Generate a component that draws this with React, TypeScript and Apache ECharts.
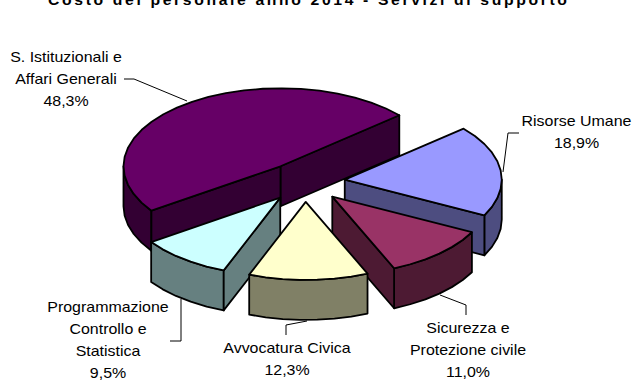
import React, { useEffect, useRef } from "react";
import * as echarts from "echarts";

const titleText = "Costo del personale anno 2014 - Servizi di supporto";
const categories = [
  "S. Istituzionali e\nAffari Generali",
  "Risorse Umane",
  "Sicurezza e\nProtezione civile",
  "Avvocatura Civica",
  "Programmazione\nControllo e\nStatistica",
];
const values = [48.3, 18.9, 11.0, 12.3, 9.5];
const topColors = ["#660066", "#9999FF", "#993366", "#FFFFCC", "#CCFFFF"];
const sideColors = ["#330033", "#4D4D80", "#4D1A33", "#808066", "#668080"];
const drawOrder = [0, 1, 2, 4, 3];

const CX = 305, CY = 182, RX = 157, RY = 78, DEPTH = 40, EXPLODE = 0.255, START = 214.7, LW = 1.8;
const FONT = "Liberation Sans, Arial, sans-serif";

const rad = (d: number) => (d * Math.PI) / 180;
const total = values.reduce((a, b) => a + b, 0);
const spans: { a: number; b: number }[] = [];
let cursor = START;
values.forEach((v) => {
  const next = cursor - (v / total) * 360;
  spans.push({ a: next, b: cursor });
  cursor = next;
});

function arcPts(ox: number, oy: number, a: number, b: number, dz = 0) {
  const pts: number[][] = [];
  const n = Math.max(2, Math.ceil((b - a) / 7));
  for (let i = 0; i <= n; i++) {
    const t = rad(a + ((b - a) * i) / n);
    pts.push([ox + RX * Math.cos(t), oy - RY * Math.sin(t) + dz]);
  }
  return pts;
}

function renderSlice(params: any, api: any) {
  const idx = api.value(0);
  const { a, b } = spans[idx];
  const mid = rad((a + b) / 2);
  const ox = CX + EXPLODE * RX * Math.cos(mid);
  const oy = CY - EXPLODE * RY * Math.sin(mid);
  const children: any[] = [];
  const poly = (points: number[][], fill: string) => ({
    type: "polygon",
    shape: { points },
    style: { fill, stroke: "#000", lineWidth: LW, lineJoin: "round" },
  });
  const sideFill = sideColors[idx];
  const ranges: number[][] = [];
  for (let k = -2; k <= 2; k++) {
    const lo = Math.max(a, 180 + 360 * k);
    const hi = Math.min(b, 360 + 360 * k);
    if (hi > lo) ranges.push([lo, hi]);
  }
  ranges.forEach(([lo, hi]) => {
    const top = arcPts(ox, oy, lo, hi);
    const bot = arcPts(ox, oy, lo, hi, DEPTH).reverse();
    children.push(poly([...top, ...bot], sideFill));
  });
  const wall = (ang: number) => {
    const t = rad(ang);
    const px = ox + RX * Math.cos(t);
    const py = oy - RY * Math.sin(t);
    return poly([[ox, oy], [px, py], [px, py + DEPTH], [ox, oy + DEPTH]], sideFill);
  };
  if (Math.sin(rad(a - 90)) < 0) children.push(wall(a));
  if (Math.sin(rad(b + 90)) < 0) children.push(wall(b));
  children.push(poly([[ox, oy], ...arcPts(ox, oy, a, b)], topColors[idx]));
  return { type: "group", children };
}

const fmt = (v: number) => v.toFixed(1).replace(".", ",") + "%";
const labelPos = [
  { x: 66, y: 79 },
  { x: 576.5, y: 132 },
  { x: 468, y: 350 },
  { x: 287, y: 359 },
  { x: 108, y: 339.5 },
];
const leaders = [
  [[124, 79], [134, 79], [187, 101]],
  [[519, 133], [508, 133], [503, 172]],
  [[440, 295], [466, 305], [466, 315]],
  [[286, 335], [286, 325], [307, 321]],
  [[170, 341], [181, 341], [181, 299]],
];

export default function App() {
  const ref = useRef<HTMLDivElement>(null);
  useEffect(() => {
    const chart = echarts.init(ref.current!, undefined, { renderer: "svg" });
    chart.setOption({
      animation: false,
      backgroundColor: "#fff",
      series: [
        {
          type: "custom",
          coordinateSystem: "none",
          renderItem: renderSlice,
          data: drawOrder.map((i) => [i, values[i]]),
          z: 1,
        },
      ],
      graphic: [
        {
          type: "text",
          x: 307.5,
          y: 0,
          z: 10,
          scaleX: 1.125,
          style: {
            text: titleText.split("").join("\u200A\u200A"),
            font: `bold 14px ${FONT}`,
            fill: "#000",
            align: "center",
            verticalAlign: "middle",
          },
        },
        ...leaders.map((pts) => ({
          type: "polyline",
          z: 10,
          shape: { points: pts },
          style: { stroke: "#000", lineWidth: 1, fill: "none" },
        })),
        ...categories.map((c, i) => ({
          type: "text",
          z: 10,
          x: labelPos[i].x,
          y: labelPos[i].y,
          scaleX: 1.14,
          style: {
            text: c + "\n" + fmt(values[i]),
            font: `14px ${FONT}`,
            lineHeight: 22,
            fill: "#000",
            align: "center",
            verticalAlign: "middle",
          },
        })),
      ],
    });
    return () => chart.dispose();
  }, []);
  return <div ref={ref} style={{ position: "fixed", left: 0, top: 0, width: 633, height: 382 }} />;
}
